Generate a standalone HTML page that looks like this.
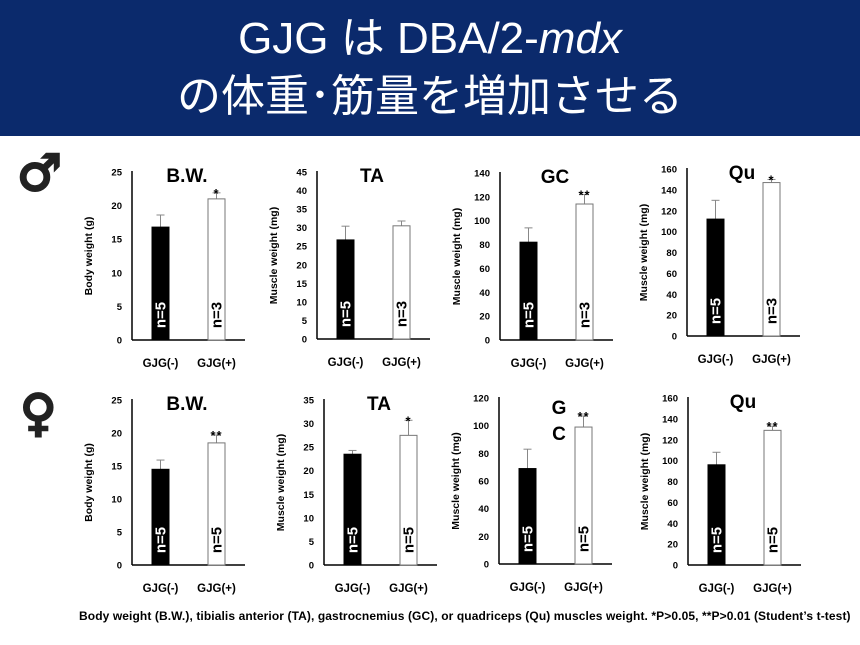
<!DOCTYPE html>
<html><head><meta charset="utf-8"><style>
body{margin:0;width:860px;height:645px;background:#fff;overflow:hidden;font-family:"Liberation Sans","Noto Sans CJK JP",sans-serif}
#hdr{position:absolute;left:0;top:0;width:860px;height:136px;background:#0b2a6c;color:#fff;text-align:center}
#hdr div{position:absolute;width:100%;font-size:44px;line-height:50px}
svg{position:absolute;left:0;top:0}
#foot{position:absolute;left:79px;top:609px;font-size:12px;font-weight:bold;white-space:nowrap;letter-spacing:0.1px}
</style></head><body>
<div id="hdr">
<div style="top:14px">GJG は DBA/2-<i>mdx</i></div>
<div style="top:72px">の体重･筋量を増加させる</div>
</div>
<svg id="chart" width="860" height="645">
<text x="17" y="190" font-size="50" font-family="DejaVu Sans, sans-serif" fill="#222" stroke="#222" stroke-width="2.5">♂</text>
<text x="20" y="430" font-size="50" font-family="DejaVu Sans, sans-serif" fill="#222" stroke="#222" stroke-width="2.5">♀</text>
</svg>
<div id="foot">Body weight (B.W.), tibialis anterior (TA), gastrocnemius (GC), or quadriceps (Qu) muscles weight. *P&gt;0.05, **P&gt;0.01 (Student’s t-test)</div>
<script>
const titles=["B.W.","TA","GC","Qu","B.W.","TA","GC","Qu"];
const yTitles=["Body weight (g)","Muscle weight (mg)","Muscle weight (mg)","Muscle weight (mg)","Body weight (g)","Muscle weight (mg)","Muscle weight (mg)","Muscle weight (mg)"];
const yMax=[25,45,140,160,25,35,120,160];
const yStep=[5,5,20,20,5,5,20,20];
const categories=["GJG(-)","GJG(+)"];
const meanMinus=[16.8,26.7,82,112,14.5,23.5,69,96];
const meanPlus=[21,30.5,114,147,18.5,27.5,99,129];
const errMinus=[1.8,3.7,12,18,1.4,0.8,14,12];
const errPlus=[0.9,1.3,8,3,1.2,3.2,8,4];
const nMinus=["n=5","n=5","n=5","n=5","n=5","n=5","n=5","n=5"];
const nPlus=["n=3","n=3","n=3","n=3","n=5","n=5","n=5","n=5"];
const stars=["*","","**","*","**","*","**","**"];

const svg=document.getElementById('chart');const NS="http://www.w3.org/2000/svg";
function mk(t,a,txt,p){const e=document.createElementNS(NS,t);for(const k in a)e.setAttribute(k,a[k]);if(txt!==undefined)e.textContent=txt;(p||svg).appendChild(e);return e;}
const axX=[132,317,500,687,132,324,499,688];
const topY=[172,172,173,169,400,400,398,398];
const botY=[340,339,340,336,565,565,564,565];
for(let i=0;i<8;i++){
  const g=mk('g',{});
  
  
  const x0=axX[i],t=topY[i],b=botY[i];
  const ys=v=>b-(v/yMax[i])*(b-t);
  const l1=mk('line',{x1:x0,y1:t-1,x2:x0,y2:b,stroke:'#000','stroke-width':1.5},undefined,g);
  
  const l2=mk('line',{x1:x0,y1:b,x2:x0+113,y2:b,stroke:'#000','stroke-width':1.5},undefined,g);
  
  for(let v=0;v<=yMax[i];v+=yStep[i]){
    const tk=mk('text',{x:x0-10,y:ys(v)+3.5,'font-size':9.5,'font-weight':'bold','text-anchor':'end'},String(v),g);
    
  }
  const cy=(t+b)/2,tx=x0-40;
  const yt=mk('text',{x:tx,y:cy,'font-size':10.5,'font-weight':'bold','text-anchor':'middle',transform:`rotate(-90 ${tx} ${cy})`},yTitles[i],g);
  
  let tt;
  if(i===6){tt=mk('text',{x:x0+60,y:t+16,'font-size':19,'font-weight':'bold','text-anchor':'middle'},'',g);
    mk('tspan',{x:x0+60,dy:0},'G',tt);mk('tspan',{x:x0+60,dy:26},'C',tt);}
  else tt=mk('text',{x:x0+55,y:t+10,'font-size':19,'font-weight':'bold','text-anchor':'middle'},titles[i],g);
  
  const means=[meanMinus[i],meanPlus[i]],errs=[errMinus[i],errPlus[i]],ns=[nMinus[i],nPlus[i]];
  for(let j=0;j<2;j++){
    const bx=x0+20+j*56,bw=17,cxm=bx+bw/2;
    const yv=ys(means[j]),ye=ys(means[j]+errs[j]);
    const el=mk('line',{x1:cxm,y1:yv,x2:cxm,y2:ye,stroke:'#888','stroke-width':1},undefined,g);
    
    const ec=mk('line',{x1:cxm-4,y1:ye,x2:cxm+4,y2:ye,stroke:'#888','stroke-width':1},undefined,g);
    
    const r=mk('rect',{x:bx,y:yv,width:bw,height:b-yv,fill:j?'#fff':'#000',stroke:j?'#777':'#000','stroke-width':1},undefined,g);
    
    const ny=b-25;
    const nt=mk('text',{x:cxm,y:ny,'font-size':15,'font-weight':'bold','text-anchor':'middle',fill:j?'#000':'#fff',transform:`rotate(-90 ${cxm} ${ny}) translate(0 5)`},ns[j],g);
    
    const cl=mk('text',{x:cxm,y:b+27,'font-size':11.5,'font-weight':'bold','text-anchor':'middle'},categories[j],g);
    
  }
  if(stars[i]){
    const sx=x0+20+56+8.5,sy=ys(meanPlus[i]+errPlus[i])-1;
    const st=mk('text',{x:sx,y:sy+6,'font-size':13,'font-weight':'bold','text-anchor':'middle','letter-spacing':'1'},stars[i],g);
    
  }
}
</script>
</body></html>
